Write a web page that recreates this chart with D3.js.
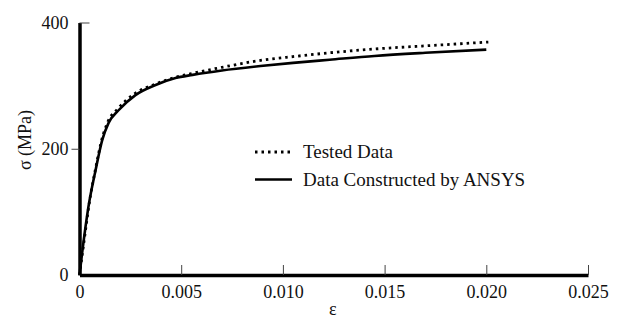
<!DOCTYPE html>
<html>
<head>
<meta charset="utf-8">
<script src="https://cdn.jsdelivr.net/npm/d3@7"></script>
<style>
  html, body { margin: 0; padding: 0; background: #fff; }
  svg { display: block; }
</style>
</head>
<body>
<svg id="chart" width="618" height="320"></svg>
<script>
// Stress–strain data: tested specimen vs. curve constructed by ANSYS
const testedStrain = [0, 0.0002, 0.0005, 0.0008, 0.0011, 0.0014, 0.0019, 0.0027, 0.0037, 0.0047, 0.0055, 0.0070, 0.0089, 0.0105, 0.0123, 0.0145, 0.0170, 0.0201];
const testedStress = [0, 48, 118, 170, 215, 243, 264, 287, 302, 313, 319, 329, 340, 346, 352, 358, 363, 369];

const ansysStrain = [0, 0.00013, 0.00044, 0.00079, 0.00112, 0.00143, 0.00192, 0.00275, 0.00374, 0.00472, 0.00556, 0.0070, 0.0089, 0.0105, 0.0123, 0.0145, 0.0170, 0.0200];
const ansysStress = [0, 35, 108, 166, 214, 241, 261, 285, 301, 312, 317, 324, 331, 336, 341, 347, 352, 357];

const xTicks = [0, 0.005, 0.010, 0.015, 0.020, 0.025];
const xTickLabels = ["0", "0.005", "0.010", "0.015", "0.020", "0.025"];
const yTicks = [0, 200, 400];
const yTickLabels = ["0", "200", "400"];

const seriesNames = ["Tested Data", "Data Constructed by ANSYS"];
const xTitle = "ε";
const yTitle = "σ (MPa)";

const svg = d3.select("#chart");
const TICK_FONT = 18;
const LEGEND_FONT = 19;
const FAMILY = "'Liberation Serif', 'Times New Roman', Times, 'DejaVu Serif', serif";
const INK = "#111";

const x = d3.scaleLinear().domain([0, 0.025]).range([79.5, 588]);
const y = d3.scaleLinear().domain([0, 400]).range([275, 22.5]);

function styleText(sel, size) {
  sel.attr("font-size", size).attr("font-family", FAMILY).attr("fill", INK)
    .style("font-family", FAMILY);
}

// X axis: thick baseline, short ticks pointing up into the plot
const xAxis = svg.append("g")
  .attr("transform", `translate(0,${y(0)})`)
  .call(d3.axisBottom(x).tickValues(xTicks)
    .tickFormat((d, i) => xTickLabels[i])
    .tickSizeInner(-10).tickSizeOuter(0).tickPadding(10));
xAxis.select(".domain").attr("stroke", "#000").attr("stroke-width", 3.5);
xAxis.selectAll(".tick line").attr("stroke", "#444").attr("stroke-width", 1)
  .filter(d => d === 0).remove();
xAxis.selectAll(".tick text").call(styleText, TICK_FONT);

// Y axis: thick vertical line, labels to the left
const yAxis = svg.append("g")
  .attr("transform", `translate(${x(0)},0)`)
  .call(d3.axisLeft(y).tickValues(yTicks)
    .tickFormat((d, i) => yTickLabels[i])
    .tickSize(0).tickPadding(11));
yAxis.select(".domain").attr("stroke", "#000").attr("stroke-width", 3.5);
yAxis.selectAll(".tick text").call(styleText, TICK_FONT);
yAxis.selectAll(".tick line").remove();
// top tick points into the plot, middle tick points outward
yAxis.selectAll(".tick").filter(d => d === 400).append("line")
  .attr("x1", 0).attr("x2", 10).attr("stroke", "#444").attr("stroke-width", 1);
yAxis.selectAll(".tick").filter(d => d === 200).append("line")
  .attr("x1", 0).attr("x2", -8).attr("stroke", "#444").attr("stroke-width", 1);

// Axis titles
svg.append("text")
  .attr("x", (x(0) + x(0.025)) / 2 - 1).attr("y", 315)
  .attr("text-anchor", "middle")
  .call(styleText, TICK_FONT)
  .text(xTitle);
svg.append("text")
  .attr("transform", `translate(31,140) rotate(-90)`)
  .attr("text-anchor", "middle")
  .call(styleText, TICK_FONT)
  .text(yTitle);

// Curves
const line = d3.line()
  .x(d => x(d[0])).y(d => y(d[1]))
  .curve(d3.curveMonotoneX);

const ansys = ansysStrain.map((e, i) => [e, ansysStress[i]]);
const tested = testedStrain.map((e, i) => [e, testedStress[i]]);

svg.append("path").datum(ansys)
  .attr("d", line).attr("fill", "none")
  .attr("stroke", "#000").attr("stroke-width", 2.6);

svg.append("path").datum(tested)
  .attr("d", line).attr("fill", "none")
  .attr("stroke", "#000").attr("stroke-width", 2.8)
  .attr("stroke-dasharray", "2.5,4");

// Legend
const legend = svg.append("g");
const legendRows = [
  { name: seriesNames[0], dash: "2.5,4", y: 152 },
  { name: seriesNames[1], dash: null, y: 179.5 }
];
legendRows.forEach(r => {
  legend.append("line")
    .attr("x1", 255).attr("x2", 292).attr("y1", r.y).attr("y2", r.y)
    .attr("stroke", "#000").attr("stroke-width", r.dash ? 2.8 : 2.6)
    .attr("stroke-dasharray", r.dash);
  legend.append("text")
    .attr("x", 303).attr("y", r.y + 6)
    .call(styleText, LEGEND_FONT)
    .text(r.name);
});
</script>
</body>
</html>
